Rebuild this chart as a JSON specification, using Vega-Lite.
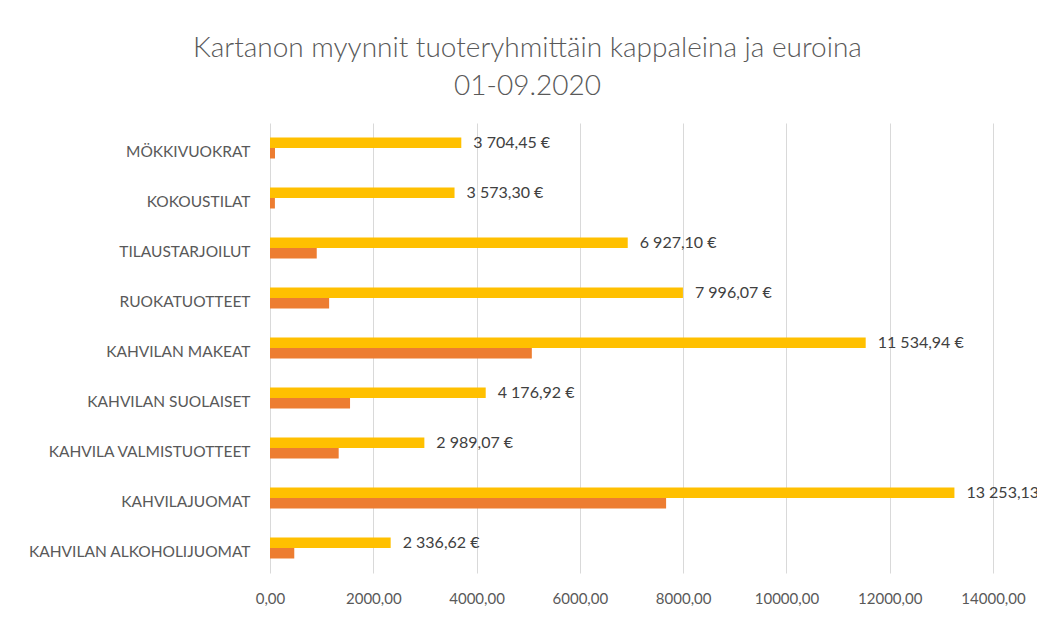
{
  "$schema": "https://vega.github.io/schema/vega-lite/v6.json",
  "width": 723,
  "height": 450,
  "autosize": {"type": "none"},
  "padding": {"left": 270, "top": 123, "right": 44, "bottom": 44},
  "background": "white",
  "config": {
    "locale": {"number": {"decimal": ",", "thousands": " ", "grouping": [3], "currency": ["", " €"]}},
    "view": {"stroke": null},
    "font": "Lato"
  },
  "title": {
    "text": ["Kartanon myynnit tuoteryhmittäin kappaleina ja euroina", "01-09.2020"],
    "font": "Lato",
    "fontSize": 28,
    "fontWeight": 300,
    "color": "#595959",
    "lineHeight": 38,
    "anchor": "middle",
    "dx": -104,
    "offset": 22
  },
  "data": {
    "values": [
      {"ryhma": "MÖKKIVUOKRAT", "sarja": "euroa", "arvo": 3704.45},
      {"ryhma": "MÖKKIVUOKRAT", "sarja": "kpl", "arvo": 97},
      {"ryhma": "KOKOUSTILAT", "sarja": "euroa", "arvo": 3573.30},
      {"ryhma": "KOKOUSTILAT", "sarja": "kpl", "arvo": 95},
      {"ryhma": "TILAUSTARJOILUT", "sarja": "euroa", "arvo": 6927.10},
      {"ryhma": "TILAUSTARJOILUT", "sarja": "kpl", "arvo": 905},
      {"ryhma": "RUOKATUOTTEET", "sarja": "euroa", "arvo": 7996.07},
      {"ryhma": "RUOKATUOTTEET", "sarja": "kpl", "arvo": 1145},
      {"ryhma": "KAHVILAN MAKEAT", "sarja": "euroa", "arvo": 11534.94},
      {"ryhma": "KAHVILAN MAKEAT", "sarja": "kpl", "arvo": 5070},
      {"ryhma": "KAHVILAN SUOLAISET", "sarja": "euroa", "arvo": 4176.92},
      {"ryhma": "KAHVILAN SUOLAISET", "sarja": "kpl", "arvo": 1550},
      {"ryhma": "KAHVILA VALMISTUOTTEET", "sarja": "euroa", "arvo": 2989.07},
      {"ryhma": "KAHVILA VALMISTUOTTEET", "sarja": "kpl", "arvo": 1330},
      {"ryhma": "KAHVILAJUOMAT", "sarja": "euroa", "arvo": 13253.13},
      {"ryhma": "KAHVILAJUOMAT", "sarja": "kpl", "arvo": 7670},
      {"ryhma": "KAHVILAN ALKOHOLIJUOMAT", "sarja": "euroa", "arvo": 2336.62},
      {"ryhma": "KAHVILAN ALKOHOLIJUOMAT", "sarja": "kpl", "arvo": 470}
    ]
  },
  "encoding": {
    "y": {
      "field": "ryhma",
      "type": "nominal",
      "sort": null,
      "scale": {"paddingInner": 0.58, "paddingOuter": 0.29},
      "axis": {
        "title": null,
        "ticks": false,
        "domain": false,
        "labelPadding": 20,
        "labelOffset": 4,
        "labelFontSize": 15.5,
        "labelColor": "#595959",
        "labelFont": "Lato",
        "labelLimit": 300
      }
    },
    "yOffset": {
      "field": "sarja",
      "type": "nominal",
      "scale": {"domain": ["euroa", "kpl"], "paddingInner": 0, "paddingOuter": 0}
    },
    "x": {
      "field": "arvo",
      "type": "quantitative",
      "scale": {"domain": [0, 14000], "nice": false},
      "axis": {
        "title": null,
        "values": [0, 2000, 4000, 6000, 8000, 10000, 12000, 14000],
        "format": ".2f",
        "ticks": false,
        "domain": false,
        "grid": true,
        "gridColor": "#d9d9d9",
        "gridWidth": 1,
        "labelPadding": 18,
        "labelFontSize": 15,
        "labelColor": "#595959",
        "labelFont": "Lato",
        "labelOverlap": false,
        "labelFlush": false
      }
    }
  },
  "layer": [
    {
      "mark": {"type": "bar"},
      "encoding": {
        "color": {
          "field": "sarja",
          "type": "nominal",
          "scale": {"domain": ["euroa", "kpl"], "range": ["#FFC000", "#ED7D31"]},
          "legend": null
        }
      }
    },
    {
      "transform": [{"filter": "datum.sarja === 'euroa'"}],
      "mark": {"type": "text", "align": "left", "baseline": "middle", "dx": 12, "fontSize": 16, "color": "#404040", "font": "Lato"},
      "encoding": {
        "text": {"field": "arvo", "type": "quantitative", "format": "$,.2f"}
      }
    }
  ]
}
